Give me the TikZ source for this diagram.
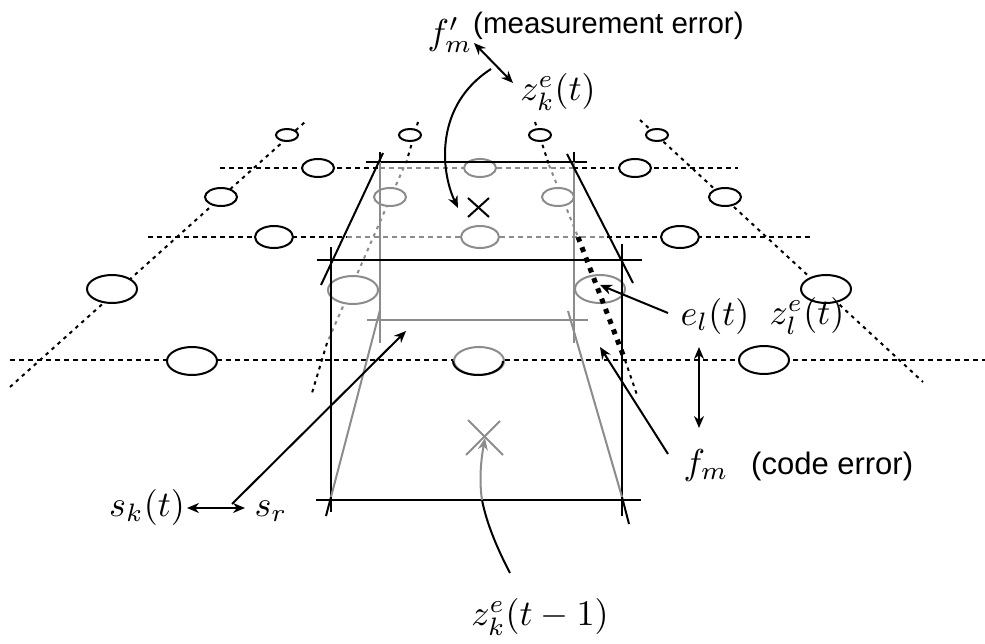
\documentclass[tikz,border=0pt]{standalone}
\usepackage{fontspec}
\usepackage{amsmath}
\newfontfamily\arial{Liberation Sans}
\usetikzlibrary{shapes.geometric,arrows.meta}
\definecolor{gr}{gray}{0.55}
\tikzset{
  dashline/.style={line width=2pt,dash pattern=on 5pt off 4pt},
  diagline/.style={line width=2pt,dash pattern=on 3.5pt off 4.5pt},
  ell/.style={shape=ellipse,draw,fill=white,line width=2pt,inner sep=0pt},
  sA/.style={ell,minimum width=22pt,minimum height=12pt},
  sB/.style={ell,minimum width=32pt,minimum height=18pt},
  sC/.style={ell,minimum width=38pt,minimum height=22pt},
  sD/.style={ell,minimum width=50pt,minimum height=28pt},
  box/.style={line width=2pt},
  gbox/.style={line width=2pt,draw=gr},
  arr/.style={line width=2pt,-{Stealth[length=12pt,width=10pt]}},
  darr/.style={line width=2pt,{Stealth[length=12pt,width=10pt]}-{Stealth[length=12pt,width=10pt]}},
  mathlab/.style={scale=3.6,inner sep=0pt},
  txt/.style={inner sep=0pt,font=\arial\fontsize{29.5}{32}\selectfont},
  txtb/.style={inner sep=0pt,font=\arial\fontsize{31}{34}\selectfont},
}
\begin{document}
\begin{tikzpicture}[x=1pt,y=-1pt]
\useasboundingbox (0,0) rectangle (985,644);
% horizontal dashed rows
\draw[dashline] (220,168) -- (380,168);
\draw[dashline] (573,168) -- (738,168);
\draw[dashline,gr] (380,168) -- (573,168);
\draw[dashline] (148,237) -- (347,237);
\draw[dashline] (607,237) -- (813,237);
\draw[dashline,gr] (347,237) -- (607,237);
\draw[dashline] (10,360) -- (985,360);
% diagonal dashed lines
\draw[diagline] (10,387) -- (305,122);
\draw[diagline] (640,120) -- (923,382);
\draw[diagline] (418,122) -- (407,160);
\draw[diagline,gr] (407,160) -- (327,343);
\draw[diagline] (327,343) -- (312,393);
\draw[diagline] (535,122) -- (549,165);
\draw[diagline,gr] (549,165) -- (578,237);
\draw[diagline] (625,360) -- (637,395);
% ellipses
\node[sA] (a1) at (287,135) {};
\node[sA] (a2) at (410,135) {};
\node[sA] (a3) at (540,135) {};
\node[sA] (a4) at (657,135) {};
\node[sB] (b1) at (318,168) {};
\node[sB,draw=gr] (b2) at (480,168) {};
\node[sB] (b3) at (635,168) {};
\node[sB] (c1) at (221,197) {};
\node[sB,draw=gr] (c2) at (390,197) {};
\node[sB,draw=gr] (c3) at (558,197) {};
\node[sB] (c4) at (725,197) {};
\node[sC] (d1) at (274,237) {};
\node[sC,draw=gr] (d2) at (480,237) {};
\node[sC] (d3) at (680,237) {};
\node[sD] (e1) at (112,289) {};
\node[sD,draw=gr] (e2) at (353,290) {};
\node[sD,draw=gr] (e3) at (600,289) {};
\node[sD] (e4) at (826,289) {};
\node[sD] (f1) at (192,361) {};
\node[sD,draw=gr] (f2) at (479,361) {};
\node[sD] (f3) at (764,360) {};
\draw[line width=2pt] (f2.west) arc[x radius=25pt,y radius=14pt,start angle=180,end angle=360];
% thick dotted
\draw[line width=5pt,dash pattern=on 5pt off 6pt] (578,237) -- (625,360);
% upper rectangle
\draw[box] (366,162) -- (587,162);
\draw[box] (380,152) -- (380,162);
\draw[box] (574,152) -- (574,162);
\draw[gbox] (380,162) -- (380,343);
\draw[gbox] (574,162) -- (574,343);
\draw[box] (383,153) -- (321,285);
\draw[box] (567,154) -- (633,283);
\draw[box] (317,260) -- (642,260);
% front rectangle
\draw[box] (331,247) -- (331,512);
\draw[box] (622,244) -- (622,516);
\draw[box] (316,500) -- (641,500);
% lower gray rectangle
\draw[gbox] (367,320) -- (588,320);
\draw[gbox] (380,310) -- (331,497);
\draw[box] (331,497) -- (326,516);
\draw[gbox] (568,311) -- (622,497);
\draw[box] (622,497) -- (629,524);
% crosses
\draw[box] (468,198) -- (489,217);
\draw[box] (489,198) -- (468,217);
\draw[gbox] (468,420) -- (503,455);
\draw[gbox] (500,421) -- (466,455);
% labels
\node[mathlab] (fmp) at (450,35) {$f'_m$};
\node[txt,anchor=west] (merr) at (473,26) {(measurement error)};
\node[mathlab] (zkt) at (558,92) {$z^e_k(t)$};
\node[mathlab] (elt) at (715,316) {$e_l(t)$};
\node[mathlab] (zlt) at (807,316) {$z^e_l(t)$};
\node[mathlab] (fm) at (706,465) {$f_m$};
\node[txtb,anchor=west] (cerr) at (751,466) {(code error)};
\node[mathlab] (skt) at (147,507) {$s_k(t)$};
\node[mathlab] (sr) at (271,511) {$s_r$};
\node[mathlab] (ztm) at (540,617) {$z^e_k(t-1)$};
% connector ends
\coordinate (p1) at (474,43); \coordinate (p2) at (513,83);
\coordinate (q1) at (491,69); \coordinate (q2) at (458,208);
\coordinate (r1) at (510,573); \coordinate (r2) at (482,500); \coordinate (r3) at (485,438);
\coordinate (s1) at (232,504); \coordinate (s2) at (406,331);
\coordinate (t1) at (668,313); \coordinate (t2) at (600,285);
\coordinate (u1) at (668,454); \coordinate (u2) at (600,347);
\coordinate (v1) at (699,347); \coordinate (v2) at (699,428);
\coordinate (w1) at (187,508); \coordinate (w2) at (245,508);
\draw[darr] (p1) -- (p2);
\draw[arr] (q1) .. controls (435,105) and (440,170) .. (q2);
\draw[box] (r1) .. controls (498,550) and (487,525) .. (r2);
\draw[gbox,-{Stealth[length=12pt,width=10pt]}] (r2) .. controls (479,480) and (481,460) .. (r3);
\draw[arr] (s1) -- (s2);
\draw[arr] (t1) -- (t2);
\draw[arr] (u1) -- (u2);
\draw[darr] (v1) -- (v2);
\draw[darr] (w1) -- (w2);
\end{tikzpicture}
\end{document}
